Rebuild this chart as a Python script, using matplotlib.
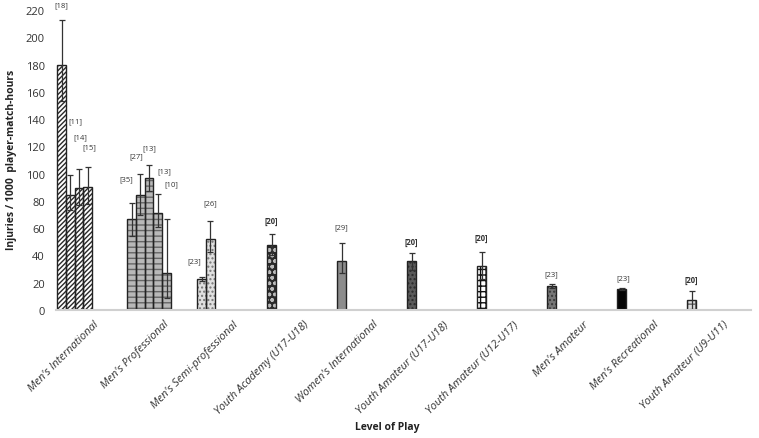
import numpy as np
import matplotlib
matplotlib.use("Agg")
import matplotlib.pyplot as plt

plt.rcParams['font.family'] = ['Open Sans', 'DejaVu Sans']

categories = ["Men's International", "Men's Professional", "Men's Semi-professional",
              "Youth Academy (U17-U18)", "Women's International", "Youth Amateur (U17-U18)",
              "Youth Amateur (U12-U17)", "Men's Amateur", "Men's Recreational",
              "Youth Amateur (U9-U11)"]

# injury incidence per study, grouped by level of play
values = [[180, 84, 89.5, 90.2], [67, 84, 96.8, 71.4, 27.3], [22.4, 52.4], [47.5],
          [35.8], [35.8], [32.2], [17.5], [15.4], [7.3]]
ci_low = [[153.5, 73, 76.8, 78], [54.4, 70, 87, 61, 9], [21.2, 42.7], [40],
          [26.8], [29.2], [23], [16], [14.5], [0.7]]
ci_high = [[212.7, 98.7, 103.6, 104.8], [78.7, 100, 106.7, 85, 66.5], [24, 65], [55.8],
           [49.2], [42], [42.2], [18.8], [16.4], [13.9]]
refs = [["[18]", "[11]", "[14]", "[15]"], ["[35]", "[27]", "[13]", "[13]", "[10]"],
        ["[23]", "[26]"], ["[20]"], ["[29]"], ["[20]"], ["[20]"], ["[23]"], ["[23]"], ["[20]"]]

# where the reference labels sit (x offset from bar, y in data units)
label_dx = [[0, 0.07, 0.015, 0.018], [-0.08, -0.06, 0, 0.1, 0.065], [-0.11, 0],
            [0], [0], [0], [0], [0], [0.02], [0]]
label_y = [[224, 138.6, 127, 119.5], [96, 113, 118.8, 102, 92.4], [36, 79], [66],
           [60.8], [50], [53.5], [26.4], [24], [22.7]]

# fill, hatch, hatch colour per level
styles = [("white", "///////", "#2a2a2a"),
          ("#b8b8b8", "---", "#666666"),
          ("#e0e0e0", "....", "#777777"),
          ("#2a2a2a", "ooo", "#bbbbbb"),
          ("#8c8c8c", "", "#8c8c8c"),
          ("#5a5a5a", "....", "#2a2a2a"),
          ("white", "+++", "#111111"),
          ("#777777", "....", "#3a3a3a"),
          ("#050505", "", "#050505"),
          ("#dddddd", "++", "#666666")]

w = 0.125

fig = plt.figure(figsize=(7.59, 4.39), dpi=100)
ax = fig.add_axes([56/759, 128/439, 695/759, 300/439])

for i, (vals, lo, hi, rf) in enumerate(zip(values, ci_low, ci_high, refs)):
    xs = i + w * np.arange(len(vals))
    face, hatch, hcol = styles[i]
    ax.bar(xs, vals, width=w, color=face, hatch=hatch, edgecolor=hcol, linewidth=0, zorder=2)
    ax.bar(xs, vals, width=w, fill=False, edgecolor="#222222", linewidth=1.0, zorder=3)
    vals = np.array(vals)
    yerr = [vals - np.array(lo), np.array(hi) - vals]
    ax.errorbar(xs, vals, yerr=yerr, fmt="none", ecolor="#333333", elinewidth=0.9,
                capsize=2.5, capthick=0.9, zorder=4)
    for k, r in enumerate(rf):
        ax.text(xs[k] + label_dx[i][k], label_y[i][k], r, ha="center", va="center",
                fontsize=5.5, color="#333333", fontweight="bold" if r == "[20]" else "normal")

ax.set_xlim(-0.079, 9.85)
ax.set_ylim(0, 220)
ax.set_yticks(np.arange(0, 221, 20))
ax.tick_params(axis="y", length=0, labelsize=8, colors="#333333", pad=8)
ax.tick_params(axis="x", length=0, pad=6)
ax.set_xticks(np.arange(len(categories)) + 0.45)
ax.set_xticklabels(categories, rotation=45, ha="right", rotation_mode="anchor",
                   fontsize=8, style="italic", color="#333333")
for s in ["top", "right", "left"]:
    ax.spines[s].set_visible(False)
ax.spines["bottom"].set_color("#d0d0d0")
ax.spines["bottom"].set_linewidth(1.5)
ax.spines["bottom"].set_zorder(5)

fig.text(12/759, 1 - 160/439, "Injuries / 1000  player-match-hours", rotation=90,
         ha="center", va="center", fontsize=7.5, fontweight="bold", color="#222222")
fig.text(0.51, 1 - 428/439, "Level of Play", ha="center", va="center",
         fontsize=7.5, fontweight="bold", color="#222222")

fig.savefig("out.png", dpi=100)
